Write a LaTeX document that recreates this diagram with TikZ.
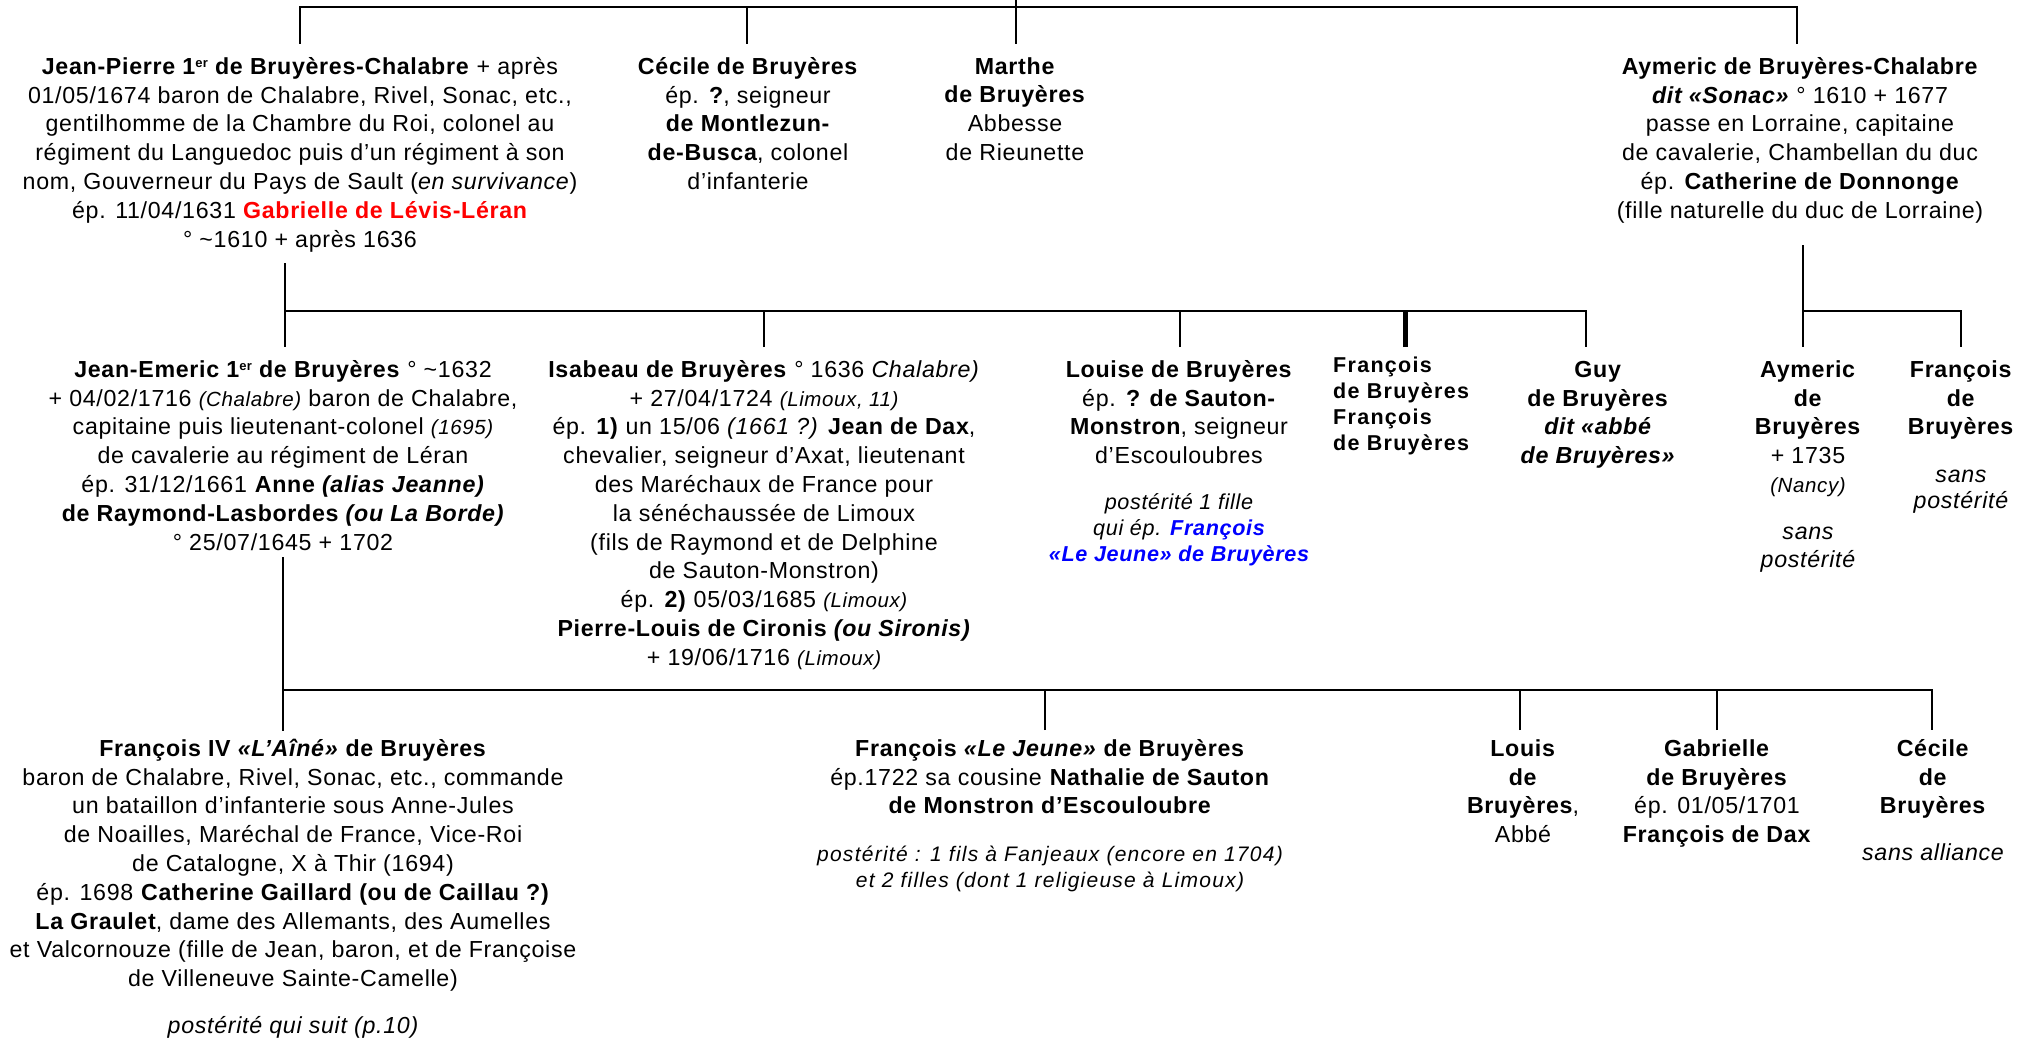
\documentclass[tikz,border=0pt]{standalone}
\usepackage{fontspec}
\setmainfont{Liberation Sans}[LetterSpace=3]
\usepackage{xcolor}
\definecolor{gred}{RGB}{255,0,0}
\definecolor{gblue}{RGB}{0,0,255}
\newcommand{\fl}{\rule{0pt}{22pt}}
\newcommand{\fls}{\rule{0pt}{20pt}}
\newcommand{\sm}[1]{{\fontsize{20.5}{28.8}\selectfont\itshape #1}}
\newcommand{\ersup}{{\fontsize{13}{13}\selectfont\raisebox{7pt}{er}}}
\begin{document}
\begin{tikzpicture}[x=1pt,y=-1pt,
  person/.style={anchor=north, align=center, inner sep=0pt, font=\fontsize{23.2}{28.8}\selectfont},
  smallnote/.style={anchor=north, align=center, inner sep=0pt, font=\fontsize{21.6}{26}\selectfont\itshape},
  column/.style={anchor=north west, align=left, inner sep=0pt, font=\fontsize{21.5}{26}\selectfont\bfseries\addfontfeature{LetterSpace=6}},
  link/.style={line width=2.8pt, line join=miter},
  thicklink/.style={line width=5pt}
]
\fill[white] (0,0) rectangle (2030,1038);
\useasboundingbox (0,0) rectangle (2030,1038);

% ---------------- Generation 1 ----------------
\node[person] (jp) at (300,52) {\fl\textbf{Jean-Pierre 1\ersup\ de Bruyères-Chalabre} + après\\
01/05/1674 baron de Chalabre, Rivel, Sonac, etc.,\\
gentilhomme de la Chambre du Roi, colonel au\\
régiment du Languedoc puis d’un régiment à son\\
nom, Gouverneur du Pays de Sault (\textit{en survivance})\\
ép. 11/04/1631 \textcolor{gred}{\textbf{Gabrielle de Lévis-Léran}}\\
° \textasciitilde1610 + après 1636};

\node[person] (cec1) at (748,52) {\fl\textbf{Cécile de Bruyères}\\
ép. \textbf{?}, seigneur\\
\textbf{de Montlezun-}\\
\textbf{de-Busca}, colonel\\
d’infanterie};

\node[person] (mar) at (1015,52) {\fl\textbf{Marthe}\\
\textbf{de Bruyères}\\
Abbesse\\
de Rieunette};

\node[person] (aym1) at (1800,52) {\fl\textbf{Aymeric de Bruyères-Chalabre}\\
\textbf{\textit{dit «Sonac»}} ° 1610 + 1677\\
passe en Lorraine, capitaine\\
de cavalerie, Chambellan du duc\\
ép. \textbf{Catherine de Donnonge}\\
(fille naturelle du duc de Lorraine)};

% ---------------- Generation 2 ----------------
\node[person] (je) at (283,355) {\fl\textbf{Jean-Emeric 1\ersup\ de Bruyères} ° \textasciitilde1632\\
+ 04/02/1716 \sm{(Chalabre)} baron de Chalabre,\\
capitaine puis lieutenant-colonel \sm{(1695)}\\
de cavalerie au régiment de Léran\\
ép. 31/12/1661 \textbf{Anne \textit{(alias Jeanne)}}\\
\textbf{de Raymond-Lasbordes \textit{(ou La Borde)}}\\
° 25/07/1645 + 1702};

\node[person] (isa) at (764,355) {\fl\textbf{Isabeau de Bruyères} ° 1636 \textit{Chalabre)}\\
+ 27/04/1724 \sm{(Limoux, 11)}\\
ép. \textbf{1)} un 15/06 \textit{(1661 ?)} \textbf{Jean de Dax},\\
chevalier, seigneur d’Axat, lieutenant\\
des Maréchaux de France pour\\
la sénéchaussée de Limoux\\
(fils de Raymond et de Delphine\\
de Sauton-Monstron)\\
ép. \textbf{2)} 05/03/1685 \sm{(Limoux)}\\
\textbf{Pierre-Louis de Cironis \textit{(ou Sironis)}}\\
+ 19/06/1716 \sm{(Limoux)}};

\node[person] (lou) at (1179,355) {\fl\textbf{Louise de Bruyères}\\
ép. \textbf{? de Sauton-}\\
\textbf{Monstron}, seigneur\\
d’Escouloubres};
\node[smallnote] (louP) at (1179,489) {\fls postérité 1 fille\\
qui ép. \textcolor{gblue}{\textbf{François}}\\
\textcolor{gblue}{\textbf{«Le Jeune» de Bruyères}}};

\node[column] (fra) at (1333,352) {\fls François\\
de Bruyères\\
François\\
de Bruyères};

\node[person] (guy) at (1598,355) {\fl\textbf{Guy}\\
\textbf{de Bruyères}\\
\textbf{\textit{dit «abbé}}\\
\textbf{\textit{de Bruyères»}}};

\node[person] (aym2) at (1808,355) {\fl\textbf{Aymeric}\\
\textbf{de}\\
\textbf{Bruyères}\\
+ 1735\\
\sm{(Nancy)}};
\node[person, font=\fontsize{23.2}{28}\selectfont\itshape] (aym2P) at (1808,517) {\fl sans\\
postérité};

\node[person] (fra2) at (1961,355) {\fl\textbf{François}\\
\textbf{de}\\
\textbf{Bruyères}};
\node[person, font=\fontsize{23.2}{26}\selectfont\itshape] (fra2P) at (1961,460) {\fl sans\\
postérité};

% ---------------- Generation 3 ----------------
\node[person] (f4) at (293,734) {\fl\textbf{François IV \textit{«L’Aîné»} de Bruyères}\\
baron de Chalabre, Rivel, Sonac, etc., commande\\
un bataillon d’infanterie sous Anne-Jules\\
de Noailles, Maréchal de France, Vice-Roi\\
de Catalogne, X à Thir (1694)\\
ép. 1698 \textbf{Catherine Gaillard (ou de Caillau ?)}\\
\textbf{La Graulet}, dame des Allemants, des Aumelles\\
et Valcornouze (fille de Jean, baron, et de Françoise\\
de Villeneuve Sainte-Camelle)};
\node[person, font=\fontsize{23.2}{28.8}\selectfont\itshape] (f4P) at (293,1011) {\fl postérité qui suit (p.10)};

\node[person] (fj) at (1050,734) {\fl\textbf{François \textit{«Le Jeune»} de Bruyères}\\
ép.1722 sa cousine \textbf{Nathalie de Sauton}\\
\textbf{de Monstron d’Escouloubre}};
\node[smallnote, font=\fontsize{21}{26}\selectfont\itshape\addfontfeature{LetterSpace=6}] (fjP) at (1050,841) {\fls postérité : 1 fils à Fanjeaux (encore en 1704)\\
et 2 filles (dont 1 religieuse à Limoux)};

\node[person] (lui) at (1523,734) {\fl\textbf{Louis}\\
\textbf{de}\\
\textbf{Bruyères},\\
Abbé};

\node[person] (gab) at (1717,734) {\fl\textbf{Gabrielle}\\
\textbf{de Bruyères}\\
ép. 01/05/1701\\
\textbf{François de Dax}};

\node[person] (cec3) at (1933,734) {\fl\textbf{Cécile}\\
\textbf{de}\\
\textbf{Bruyères}};
\node[person, font=\fontsize{23.2}{28.8}\selectfont\itshape] (cec3P) at (1933,838) {\fl sans alliance};

% ---------------- Connectors ----------------
% generation 0 -> 1
\coordinate (root) at (1016,0);
\coordinate (b0L) at (300,7);
\coordinate (b0R) at (1797,7);
\coordinate (jpT) at (300,44);
\coordinate (cecT) at (747,44);
\coordinate (marT) at (1016,44);
\coordinate (aymT) at (1797,44);
\draw[link] (jpT) -- (b0L) -- (b0R) -- (aymT);
\draw[link] (cecT) -- (cecT |- b0L);
\draw[link] (root) -- (marT);

% Jean-Pierre -> generation 2
\coordinate (jpB) at (285,263);
\coordinate (b1L) at (285,311);
\coordinate (b1R) at (1586,311);
\coordinate (jeT) at (285,347);
\coordinate (isaT) at (764,347);
\coordinate (louT) at (1180,347);
\coordinate (fraT) at (1405,347);
\coordinate (guyT) at (1586,347);
\draw[link] (jpB) -- (jeT);
\draw[link] (b1L) -- (b1R) -- (guyT);
\draw[link] (isaT) -- (isaT |- b1L);
\draw[link] (louT) -- (louT |- b1L);
\draw[thicklink] (fraT) -- (fraT |- b1L);

% Aymeric -> generation 2
\coordinate (aymB) at (1803,245);
\coordinate (b2L) at (1803,311);
\coordinate (aym2T) at (1803,347);
\coordinate (fra2T) at (1961,347);
\draw[link] (aymB) -- (aym2T);
\draw[link] (b2L) -- (fra2T |- b2L) -- (fra2T);

% Jean-Emeric -> generation 3
\coordinate (jeB) at (283,557);
\coordinate (b3L) at (283,690);
\coordinate (f4T) at (283,731);
\coordinate (fjT) at (1045,730);
\coordinate (luiT) at (1520,730);
\coordinate (gabT) at (1717,730);
\coordinate (cec3T) at (1932,730);
\draw[link] (jeB) -- (f4T);
\draw[link] (b3L) -- (cec3T |- b3L) -- (cec3T);
\draw[link] (fjT) -- (fjT |- b3L);
\draw[link] (luiT) -- (luiT |- b3L);
\draw[link] (gabT) -- (gabT |- b3L);
\end{tikzpicture}
\end{document}
